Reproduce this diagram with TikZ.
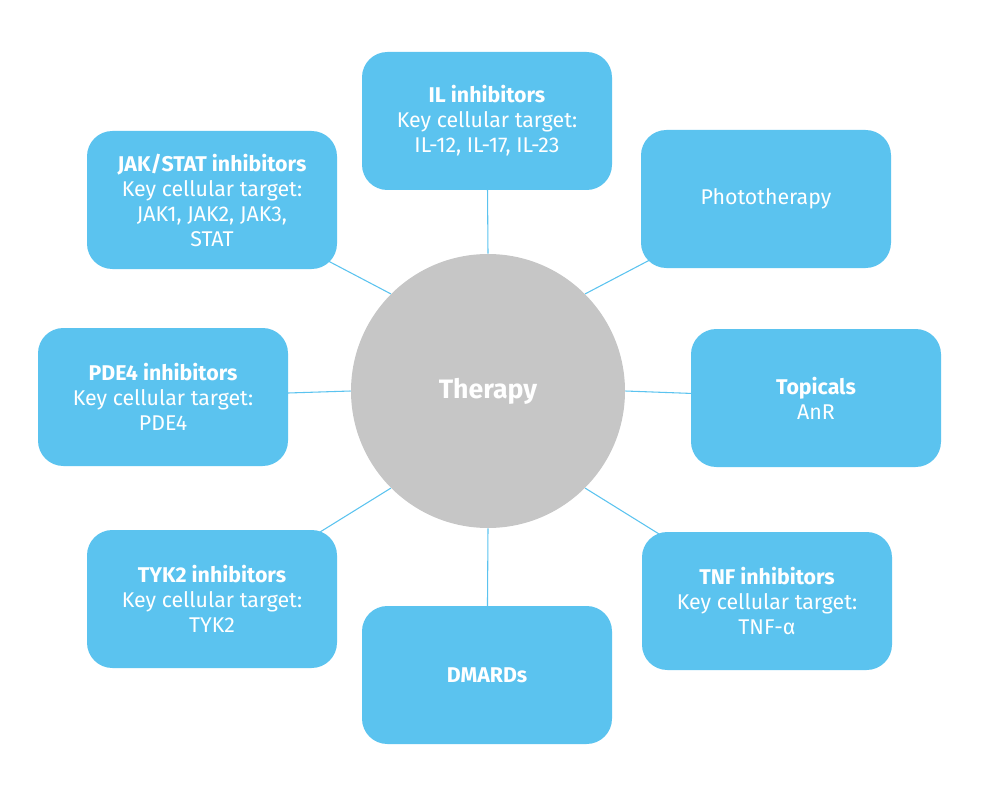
\documentclass[tikz,border=0pt]{standalone}
\usepackage{fontspec}
\setmainfont{Fira Sans}
\usetikzlibrary{positioning,backgrounds}

\definecolor{boxblue}{HTML}{5BC3EF}
\definecolor{hubgray}{HTML}{C6C6C6}

\tikzset{
  therapy/.style={rectangle, rounded corners=19pt, fill=boxblue,
    minimum width=187.5pt, minimum height=103.5pt, text=white,
    align=center, font=\fontsize{16}{18.75}\selectfont},
  hub/.style={circle, fill=hubgray, minimum size=205.5pt, text=white,
    font=\fontsize{20}{24}\selectfont\bfseries},
  link/.style={draw=boxblue, line width=0.8pt}
}

\begin{document}
\begin{tikzpicture}[x=0.75pt, y=-0.75pt]
  \useasboundingbox (0,0) rectangle (1000,795);

  \node[hub] (hub) at (488,391) {Therapy};

  \node[therapy] (il)    at (487,121) {\textbf{IL inhibitors}\\Key cellular target:\\IL-12, IL-17, IL-23};
  \node[therapy] (photo) at (766,199) {Phototherapy};
  \node[therapy] (top)   at (816,398) {\textbf{Topicals}\\AnR};
  \node[therapy] (tnf)   at (767,601) {\textbf{TNF inhibitors}\\Key cellular target:\\TNF-α};
  \node[therapy] (dmard) at (487,675) {\textbf{DMARDs}};
  \node[therapy] (tyk)   at (212,599) {\textbf{TYK2 inhibitors}\\Key cellular target:\\TYK2};
  \node[therapy] (pde)   at (163,397) {\textbf{PDE4 inhibitors}\\Key cellular target:\\PDE4};
  \node[therapy] (jak)   at (212,200) {\textbf{JAK/STAT inhibitors}\\Key cellular target:\\JAK1, JAK2, JAK3,\\STAT};

  % spokes, behind the boxes
  \begin{pgfonlayer}{background}
    \foreach \a/\b in {90/il,45/photo,0/top,-45/tnf,-90/dmard,-135/tyk,180/pde,135/jak}
      \draw[link] (hub.\a) -- (\b.center);
  \end{pgfonlayer}

\end{tikzpicture}
\end{document}
